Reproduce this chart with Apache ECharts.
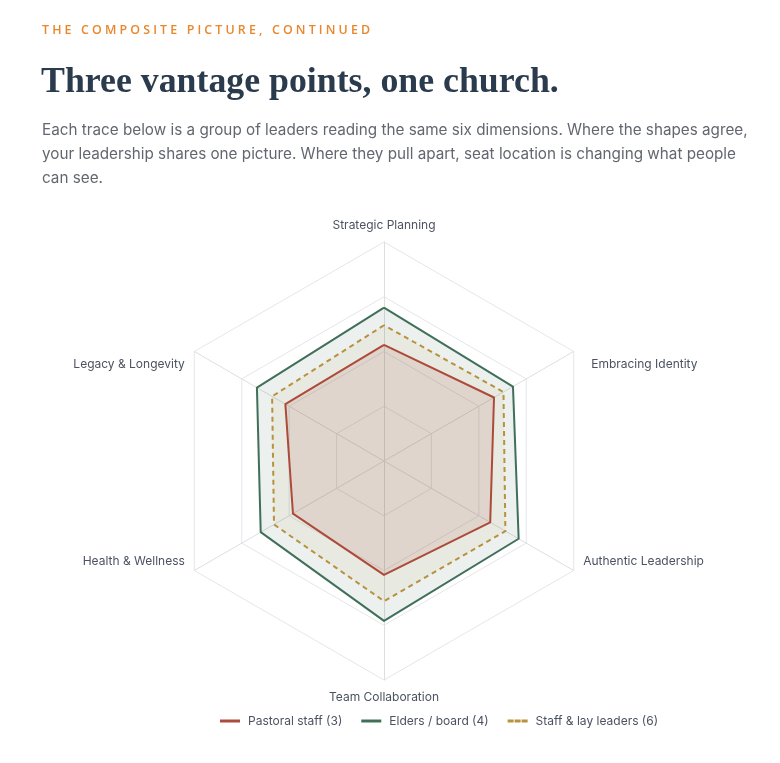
<!DOCTYPE html>
<html>
<head>
<meta charset="utf-8">
<script src="https://cdn.jsdelivr.net/npm/echarts@6/dist/echarts.min.js"></script>
<style>
  html, body { margin: 0; padding: 0; background: #ffffff; }
  body { width: 780px; height: 763px; position: relative; overflow: hidden; }
  #chart { position: absolute; left: 0; top: 0; width: 780px; height: 763px; }
  .eyebrow { position: absolute; left: 42px; top: 21px; font-family: "Open Sans", sans-serif; font-weight: 600;
    font-size: 12.4px; letter-spacing: 3.15px; color: #e8872c; white-space: nowrap; z-index: 2; }
  .title { position: absolute; left: 41px; top: 59px; font-family: "Liberation Serif", serif; font-weight: 700;
    font-size: 35.8px; color: #2b3b4e; white-space: nowrap; z-index: 2; }
  .lede { position: absolute; left: 42px; top: 118px; font-family: "Inter", sans-serif; font-weight: 400;
    font-size: 15.25px; line-height: 24px; color: #62676f; white-space: nowrap; z-index: 2; }
</style>
</head>
<body>
<div id="chart"></div>
<div class="eyebrow">THE COMPOSITE PICTURE, CONTINUED</div>
<div class="title">Three vantage points, one church.</div>
<div class="lede">Each trace below is a group of leaders reading the same six dimensions. Where the shapes agree,<br>your leadership shares one picture. Where they pull apart, seat location is changing what people<br>can see.</div>
<script>
// Dimensions, in ECharts radar order (top, then counter-clockwise)
const dimensions = ['Strategic Planning', 'Legacy & Longevity', 'Health & Wellness',
                    'Team Collaboration', 'Authentic Leadership', 'Embracing Identity'];
const scaleMax = 100;
const seriesNames = ['Pastoral staff (3)', 'Elders / board (4)', 'Staff & lay leaders (6)'];
const pastoralStaff = [53, 52, 48, 52, 56, 58];
const eldersBoard   = [70, 67, 65, 73, 71, 68];
const staffLay      = [62, 59, 58, 64, 64, 63];

const colors = { pastoral: '#ad4b3b', elders: '#41705a', lay: '#b8923c' };
// label placement tweak per dimension (style only)
const namePos = {
  'Strategic Planning': 'c', 'Team Collaboration': 'c',
  'Legacy & Longevity': 'ul', 'Embracing Identity': 'ur',
  'Health & Wellness': 'dl', 'Authentic Leadership': 'dr'
};
const nameFont = { fontFamily: 'Inter, sans-serif', fontSize: 12, color: '#4b5260' };

const chart = echarts.init(document.getElementById('chart'), null, { renderer: 'canvas' });
chart.setOption({
  animation: false,
  legend: {
    data: [
      { name: seriesNames[0], icon: 'rect' },
      { name: seriesNames[1], icon: 'rect' },
      { name: seriesNames[2], icon: 'path://M0,0h6v3h-6z M7,0h6v3h-6z M14,0h6v3h-6z' }
    ],
    left: 215, top: 710,
    itemWidth: 20, itemHeight: 3, itemGap: 19,
    textStyle: { fontFamily: 'Inter, sans-serif', fontSize: 12, color: '#4b5260', padding: [0, 0, 0, 3] }
  },
  radar: {
    center: [384, 461],
    radius: 219,
    startAngle: 90,
    splitNumber: 4,
    shape: 'polygon',
    nameGap: 11,
    axisName: {
      formatter: function (name) { return '{' + namePos[name] + '|' + name + '}'; },
      rich: {
        c:  Object.assign({}, nameFont),
        ul: Object.assign({ padding: [36, 0, 0, 0] }, nameFont),
        ur: Object.assign({ padding: [36, 0, 0, 8] }, nameFont),
        dl: Object.assign({ padding: [0, 0, 30, 0] }, nameFont),
        dr: Object.assign({ padding: [0, 0, 30, 0] }, nameFont)
      }
    },
    splitLine: { lineStyle: { color: '#e4e6ea', width: 1 } },
    splitArea: { show: false },
    axisLine: { lineStyle: { color: '#dcdee2', width: 1 } },
    indicator: dimensions.map(function (d) { return { name: d, max: scaleMax }; })
  },
  series: [{
    type: 'radar',
    symbol: 'none',
    data: [
      { name: seriesNames[1], value: eldersBoard,
        lineStyle: { color: colors.elders, width: 2 }, itemStyle: { color: colors.elders },
        areaStyle: { color: colors.elders, opacity: 0.1 } },
      { name: seriesNames[2], value: staffLay,
        lineStyle: { color: colors.lay, width: 2, type: [5, 4] }, itemStyle: { color: colors.lay },
        areaStyle: { color: colors.lay, opacity: 0.08 } },
      { name: seriesNames[0], value: pastoralStaff,
        lineStyle: { color: colors.pastoral, width: 2 }, itemStyle: { color: colors.pastoral },
        areaStyle: { color: colors.pastoral, opacity: 0.13 } }
    ]
  }]
});
</script>
</body>
</html>
